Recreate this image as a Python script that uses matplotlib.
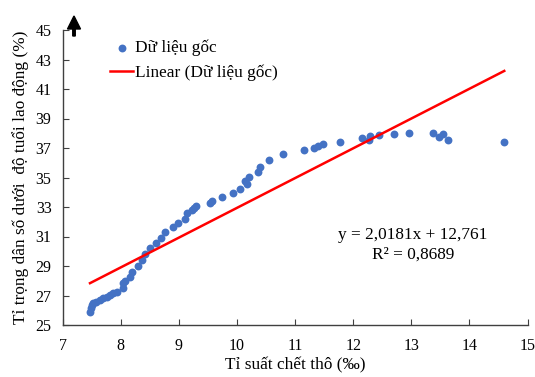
import matplotlib
matplotlib.use("Agg")
import matplotlib.pyplot as plt
import numpy as np

plt.rcParams['font.family'] = ['Liberation Serif', 'DejaVu Serif']

crude_death_rate = [7.47, 7.48, 7.50, 7.53, 7.58, 7.64, 7.70, 7.76, 7.81, 7.87,
                    7.93, 8.04, 8.04, 8.07, 8.16, 8.20, 8.30, 8.36, 8.41, 8.50,
                    8.60, 8.70, 8.76, 8.89, 8.99, 9.11, 9.14, 9.22, 9.26, 9.30,
                    9.53, 9.57, 9.74, 9.93, 10.05, 10.13, 10.18, 10.21, 10.36, 10.39,
                    10.55, 10.80, 11.16, 11.32, 11.39, 11.48, 11.78, 12.15, 12.28, 12.29,
                    12.45, 12.70, 12.96, 13.37, 13.47, 13.54, 13.63, 14.60]
young_share = [25.90, 26.13, 26.36, 26.47, 26.58, 26.69, 26.81, 26.92, 27.03, 27.15,
               27.26, 27.49, 27.83, 27.98, 28.27, 28.61, 29.02, 29.41, 29.79, 30.20,
               30.58, 30.92, 31.28, 31.62, 31.94, 32.21, 32.57, 32.80, 32.95, 33.07,
               33.25, 33.43, 33.66, 33.93, 34.20, 34.78, 34.54, 35.05, 35.39, 35.73,
               36.19, 36.61, 36.86, 36.98, 37.14, 37.25, 37.41, 37.68, 37.54, 37.81,
               37.88, 37.93, 38.00, 38.00, 37.77, 37.93, 37.54, 37.43]
slope = 2.0181
intercept = 12.761
r2 = 0.8689
x_ticks = [7, 8, 9, 10, 11, 12, 13, 14, 15]
y_ticks = [25, 27, 29, 31, 33, 35, 37, 39, 41, 43, 45]

fig = plt.figure(figsize=(5.35, 3.77), dpi=100)
ax = fig.add_axes([62.7/535, 1-325/377, (527.5-62.7)/535, (325-30)/377])

ax.scatter(crude_death_rate, young_share, s=32, color='#4472C4', zorder=3,
           label='Dữ liệu gốc', linewidths=0)
xl = np.array([min(crude_death_rate), max(crude_death_rate)])
ax.plot(xl, slope*xl + intercept, color='#FF0000', lw=1.8, zorder=4,
        label='Linear (Dữ liệu gốc)')

ax.set_xlim(7, 15)
ax.set_ylim(25, 45)
ax.set_xticks(x_ticks)
ax.set_yticks(y_ticks)
ax.tick_params(direction='in', length=4, width=0.8, colors='#404040',
               labelcolor='black', labelsize=11.5)
ax.tick_params(axis='y', pad=8)
ax.tick_params(axis='x', pad=9)
for s in ['top', 'right']:
    ax.spines[s].set_visible(False)
for s in ['left', 'bottom']:
    ax.spines[s].set_color('#404040')
    ax.spines[s].set_linewidth(1.0)

ax.set_xlabel('Tỉ suất chết thô (‰)', fontsize=12.4, labelpad=3)
ax.set_ylabel('Tỉ trọng dân số dưới  độ tuổi lao động (%)', fontsize=12.4, labelpad=5)

fmt = lambda v: f"{v}".replace('.', ',')
ax.text(413/535, 1-245/377, f"y = {fmt(slope)}x + {fmt(intercept)}\nR² = {fmt(r2)}",
        transform=fig.transFigure, ha='center', va='center', fontsize=12.4,
        linespacing=1.3)

leg = ax.legend(loc='upper left', bbox_to_anchor=(0.088, 0.99), frameon=False,
                fontsize=12.4, handlelength=1.3, handletextpad=0.15, labelspacing=0.5,
                borderaxespad=0.0)

# arrow at top of y axis
fig.patches.append(matplotlib.patches.FancyArrow(
    74/535, 1-36/377, 0, 20/377, width=2.5/535, head_width=13/535,
    head_length=13/377, length_includes_head=True, color='black',
    transform=fig.transFigure, figure=fig))

fig.savefig('out.png', dpi=100)
